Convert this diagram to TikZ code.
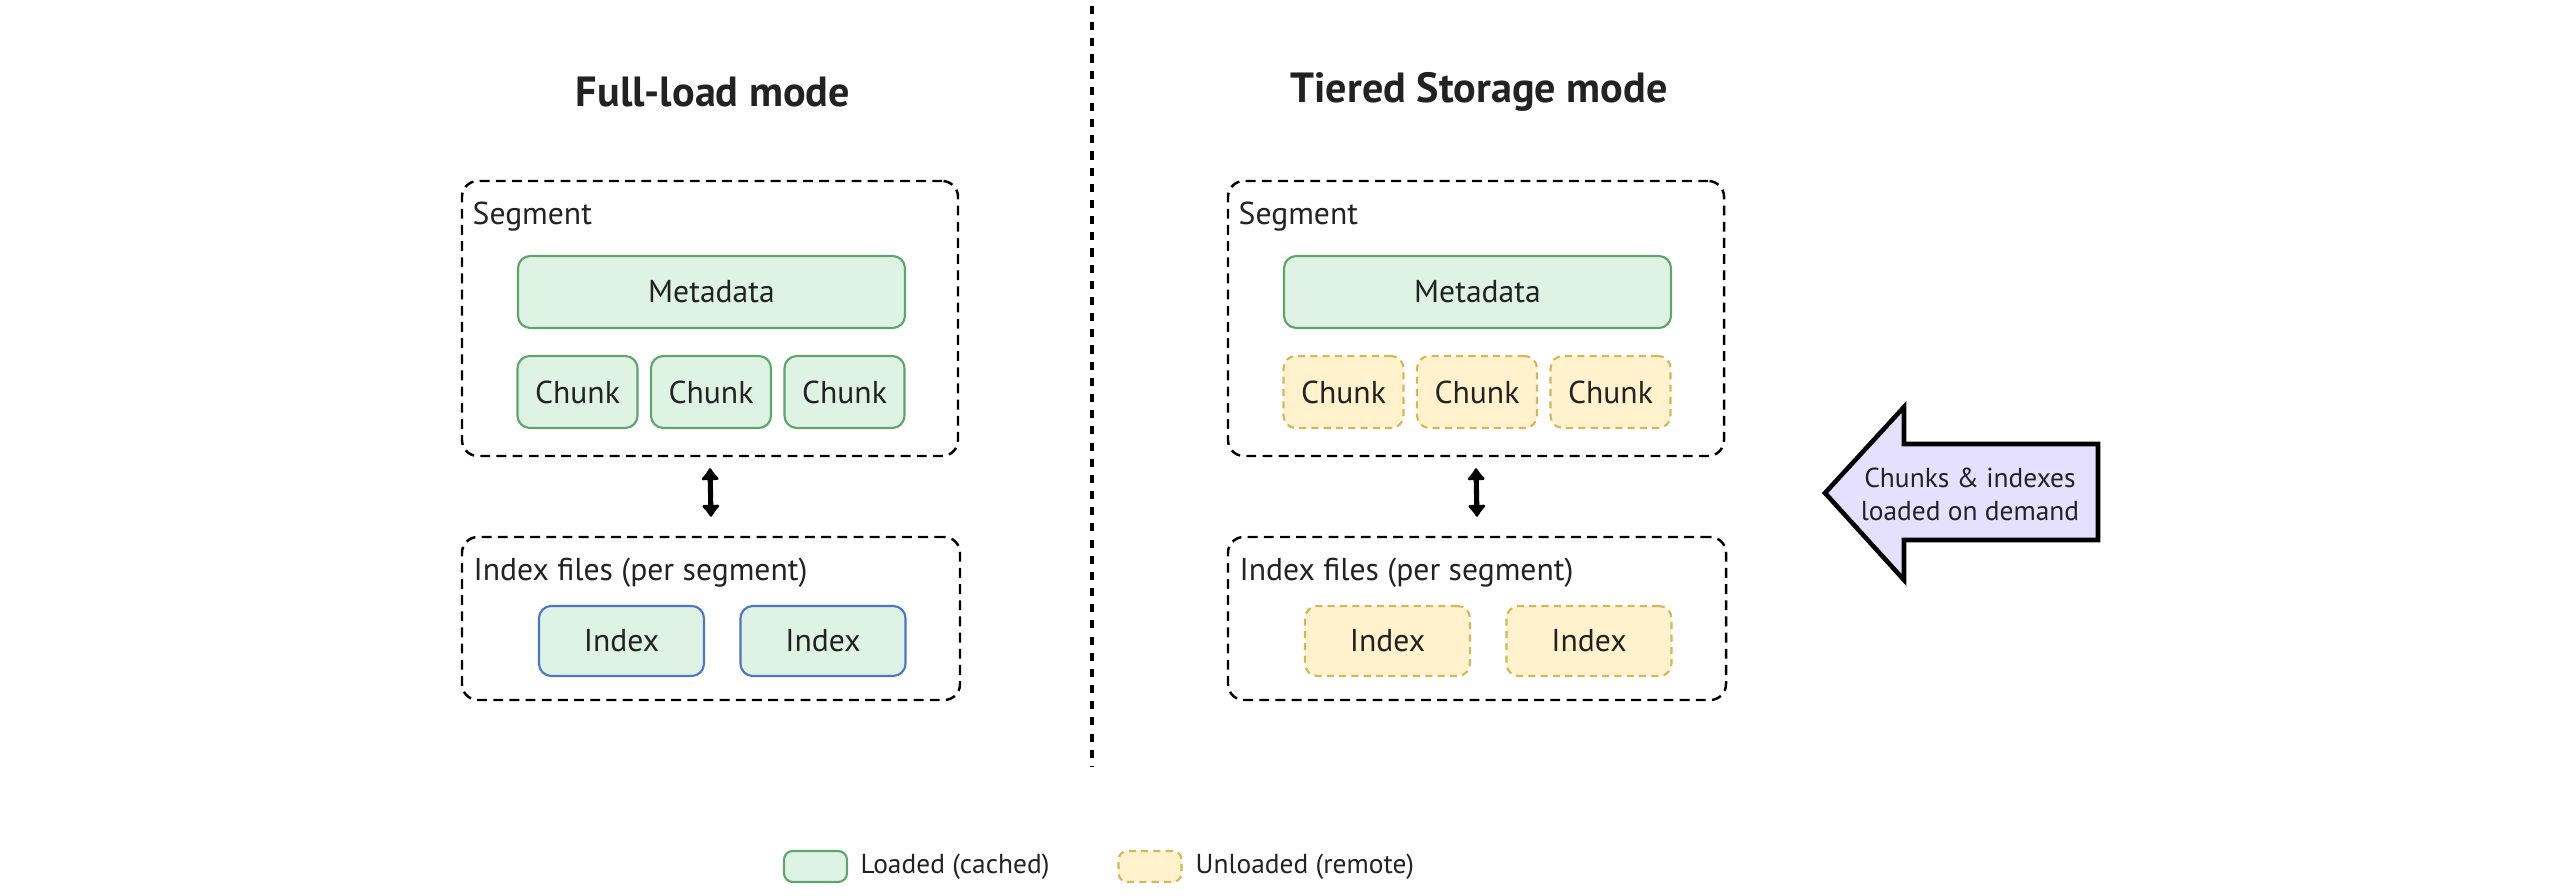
\documentclass[tikz,border=0pt]{standalone}
\usepackage{fontspec}
\setmainfont{PT Sans}
\usetikzlibrary{arrows.meta}
\tikzset{>=stealth}
\definecolor{loadfill}{HTML}{DFF3E4}
\definecolor{loadline}{HTML}{5DA46D}
\definecolor{idxline}{HTML}{4A76C9}
\definecolor{remfill}{HTML}{FFF2CC}
\definecolor{remline}{HTML}{D6B656}
\definecolor{arrowfill}{HTML}{E6E0FF}
\definecolor{ink}{HTML}{222222}
\tikzset{
	txt/.style = {inner sep = 0pt, text = ink, font = \fontsize{9}{11}\selectfont},
	small/.style = {inner sep = 0pt, text = ink, font = \fontsize{7.8}{9.4}\selectfont},
	title/.style = {inner sep = 0pt, text = ink, font = \fontsize{12}{14.5}\selectfont\bfseries},
	groupbox/.style = {draw, line width = 0.7pt, dash pattern = on 2.8pt off 1.8pt, rounded corners = 4.5pt, inner sep = 0pt},
	block/.style = {txt, line width = 0.6pt, rounded corners = 3.5pt},
	loaded/.style = {block, draw = loadline, fill = loadfill},
	loadedidx/.style = {block, draw = idxline, fill = loadfill},
	unloaded/.style = {block, draw = remline, fill = remfill, dash pattern = on 2pt off 1.5pt},
	chunk/.style = {minimum width = 1.2cm, minimum height = 0.72cm},
	idxbox/.style = {minimum width = 1.65cm, minimum height = 0.70cm},
	swatch/.style = {minimum width = 0.63cm, minimum height = 0.31cm, rounded corners = 2.5pt},
	dbl/.style = {<->, > = {Latex[round, length = 3.8pt, width = 6.2pt]}, line width = 1.45pt},
	divider/.style = {line width = 1.15pt, dash pattern = on 2.3pt off 2.3pt},
	bigarrow/.style = {draw, line width = 1.3pt, fill = arrowfill, line join = miter}
}

\begin{document}
\begin{tikzpicture}
	\useasboundingbox (0,0) rectangle (25.6,-8.96);
	% the two modes side by side
	\foreach \s/\dx/\ttl/\ck/\ix in {L/0/Full-load mode/loaded/loadedidx,R/7.66/Tiered Storage mode/unloaded/unloaded}
	{
	\begin{scope}[xshift = \dx cm]
		\node[title] (title\s) at (7.13,-0.92) {\ttl};
		\node[groupbox, minimum width = 4.96cm, minimum height = 2.75cm] (seg\s) at (7.10,-3.185) {};
		\node[txt, anchor = west] (seglbl\s) at (4.72,-2.17) {Segment};
		\node[loaded, minimum width = 3.87cm, minimum height = 0.72cm] (meta\s) at (7.115,-2.92) {Metadata};
		\foreach \i/\x in {1/5.775, 2/7.11, 3/8.445}
		\node[\ck, chunk] (chunk\s\i) at (\x,-3.92) {Chunk};
		\node[groupbox, minimum width = 4.98cm, minimum height = 1.63cm] (idx\s) at (7.11,-6.185) {};
		\node[txt, anchor = west] (idxlbl\s) at (4.73,-5.73) {Index files (per segment)};
		\node[\ix, idxbox] (index\s1) at (6.215,-6.41) {Index};
		\node[\ix, idxbox] (index\s2) at (8.23,-6.41) {Index};
		\draw[dbl] ([yshift = -0.11cm]seg\s.south) -- ([yshift = 0.19cm]idx\s.north);
	\end{scope}
	}
	% dotted divider
	\coordinate (divtop) at (10.92,-0.06);
	\coordinate (divbot) at (10.92,-7.66);
	\draw[divider] (divtop) -- (divbot);
	% on demand arrow
	\draw[bigarrow] (18.25,-4.93) -- (19.04,-4.07) -- (19.04,-4.44) -- (20.98,-4.44)
		-- (20.98,-5.40) -- (19.04,-5.40) -- (19.04,-5.80) -- cycle;
	\node[small, align = center] (demand) at (19.70,-4.94) {Chunks \& indexes\\loaded on demand};
	% legend
	\node[loaded, swatch] (keyload) at (8.155,-8.665) {};
	\node[small, anchor = west] (keyloadtxt) at (8.60,-8.665) {Loaded (cached)};
	\node[unloaded, swatch] (keyrem) at (11.50,-8.665) {};
	\node[small, anchor = west] (keyremtxt) at (11.95,-8.665) {Unloaded (remote)};
\end{tikzpicture}
\end{document}
